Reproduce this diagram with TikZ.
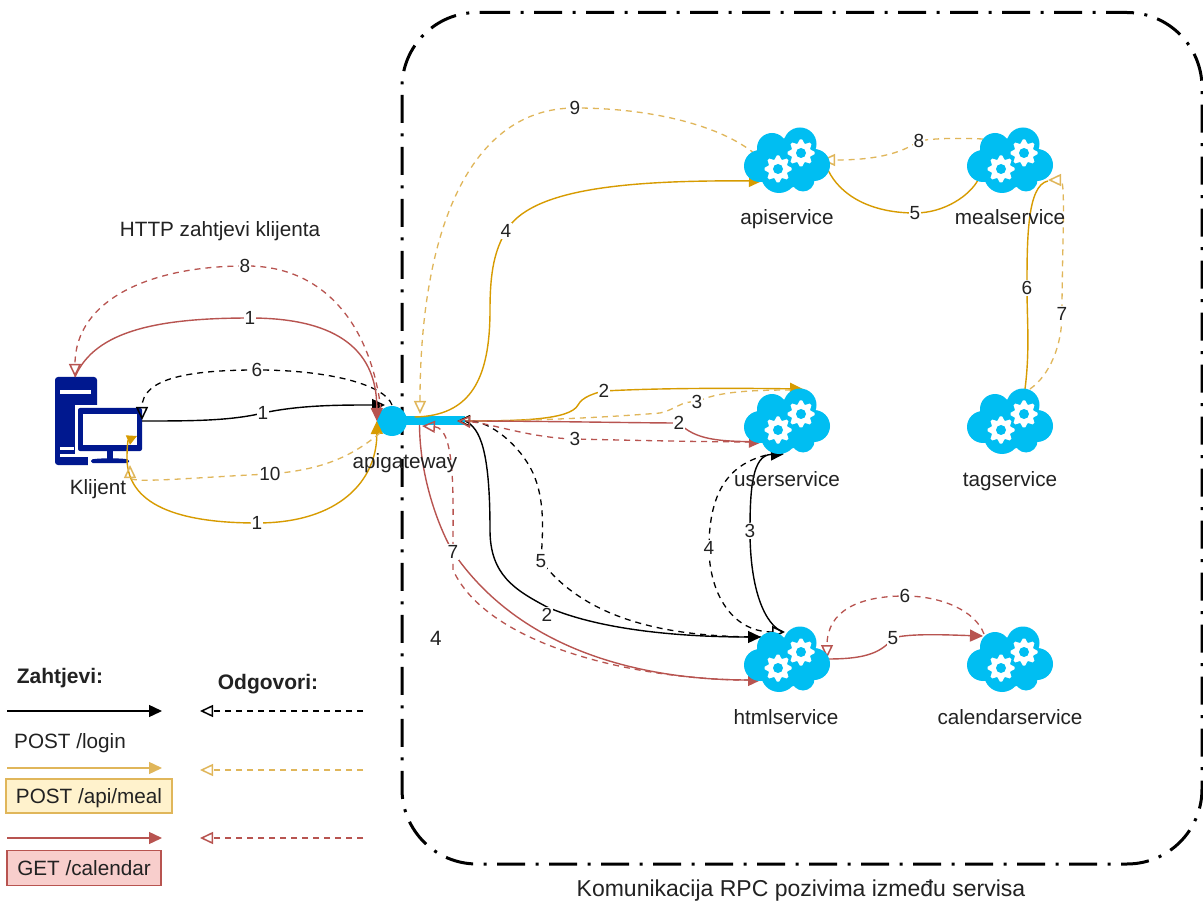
\documentclass[tikz,border=0pt]{standalone}
\usepackage{fontspec}
\setmainfont{Liberation Sans}
\usetikzlibrary{arrows.meta,calc}
\pgfdeclarelayer{edges}
\pgfsetlayers{edges,main}
\definecolor{cyanfill}{HTML}{00BEF2}
\definecolor{navy}{HTML}{00188F}
\definecolor{ylw}{HTML}{D79B00}
\definecolor{ylwd}{HTML}{E0B65A}
\definecolor{redl}{HTML}{B85450}
\definecolor{txt}{HTML}{222222}
\definecolor{ylwfill}{HTML}{FFF2CC}
\definecolor{redfill}{HTML}{F8CECC}
\tikzset{
  lbl/.style={font=\fontsize{19}{20}\selectfont,text=txt,fill=white,inner sep=1pt},
  captxt/.style={font=\fontsize{20.7}{24}\selectfont,text=txt,inner sep=0pt,text height=14pt,text depth=4pt},
  reqline/.style={line width=1.4pt,-{Triangle[length=13pt,width=12pt]}},
  plainline/.style={line width=1.4pt},
  respline/.style={line width=1.3pt,dash pattern=on 6pt off 5pt,-{Triangle[open,length=13pt,width=12pt,line width=1.5pt]}},
  anchorbox/.style={minimum width=85pt,minimum height=65pt,inner sep=0pt},
  legendbox/.style={font=\fontsize{20.7}{24}\selectfont,text=txt,inner sep=0pt,line width=1.5pt,anchor=center,text height=14.2pt,text depth=0pt}
}
\newcommand{\gearat}[2]{%
  \begin{scope}[shift={(#1,#2)}]
    \fill[white] (0,0) circle (10);
    \foreach \a in {0,45,...,315}{\fill[white,rotate=\a] (-1.2,-13.5) -- (1.2,-13.5) -- (4.2,-8) -- (-4.2,-8) -- cycle;}
    \fill[cyanfill] (0,0) circle (5);
  \end{scope}}
\newcommand{\svc}[3]{%
  \node[anchorbox] (#1) at (#2,#3) {};
  \begin{scope}[shift={(#2,#3)}]
    \fill[cyanfill] (-27,6) circle (16) (-15,-12) circle (15) (13,-16) circle (16.5)
      (27,5) circle (16) (-8,15) circle (18) (16,20) circle (11.5) (0,3) circle (25);
    \gearat{-9}{9}
    \gearat{14}{-7}
  \end{scope}}
\begin{document}
\begin{tikzpicture}[x=1pt,y=-1pt]
\useasboundingbox (0,0) rectangle (1203,901);
% services
\svc{api}{787}{160}
\svc{meal}{1010}{160}
\svc{user}{787}{421}
\svc{tag}{1010}{421}
\svc{html}{787}{659}
\svc{cal}{1010}{659}
\node[captxt] (apit) at (787,220) {apiservice};
\node[captxt] (mealt) at (1010,220) {mealservice};
\node[captxt] (usert) at (787,481) {userservice};
\node[captxt] (tagt) at (1010,481) {tagservice};
\node[captxt] (htmlt) at (786,719) {htmlservice};
\node[captxt] (calt) at (1010,719) {calendarservice};
\node[captxt] (gwt) at (405,463) {apigateway};
\node[captxt] (klt) at (98,489) {Klijent};
% free texts
\node[captxt] (http) at (220,232) {HTTP zahtjevi klijenta};
\node[captxt,font=\fontsize{23}{26}\selectfont] (komt) at (801,891) {Komunikacija RPC pozivima između servisa};
\node[captxt] (four) at (436,640) {4};
% legend
\node[captxt,font=\fontsize{21}{24}\selectfont\bfseries] (zah) at (60,678) {Zahtjevi:};
\node[captxt,font=\fontsize{21}{24}\selectfont\bfseries] (odg) at (268,684) {Odgovori:};
\coordinate (lb1a) at (7,711); \coordinate (lb1b) at (162,711);
\coordinate (lr1a) at (363,711); \coordinate (lr1b) at (200,711);
\coordinate (lb2a) at (7,768); \coordinate (lb2b) at (162,768);
\coordinate (lr2a) at (363,770); \coordinate (lr2b) at (200,770);
\coordinate (lb3a) at (7,838); \coordinate (lb3b) at (162,838);
\coordinate (lr3a) at (363,838); \coordinate (lr3b) at (200,838);
\node[captxt] (plog) at (70,743) {POST /login};
\node[legendbox,draw=ylwd,fill=ylwfill,minimum width=166pt,minimum height=34pt] (pmeal) at (89,796) {POST /api/meal};
\node[legendbox,draw=redl,fill=redfill,minimum width=154pt,minimum height=35pt] (gcal) at (84,868) {GET /calendar};
\begin{pgfonlayer}{edges}
\fill[white] (0,0) rectangle (1203,901);
% communication frame
\draw[line width=3pt,dash pattern=on 28pt off 10.5pt on 3pt off 10.5pt,rounded corners=75pt] (482,12.5) -- (1202,12.5) -- (1202,864) -- (402,864) -- (402,12.5) -- (482,12.5);
% gateway
\node[fill=cyanfill,minimum width=65pt,minimum height=9pt,inner sep=0pt] (bar) at (432.5,421) {};
\node[circle,fill=cyanfill,minimum size=30pt,inner sep=0pt] (gw) at (392,421) {};
% client
\node[minimum width=87pt,minimum height=88pt,inner sep=0pt] (client) at (98,421) {};
\fill[navy,rounded corners=3pt] (55,377) rectangle (97,465);
\fill[white] (60,390) rectangle (91,394);
\fill[white] (60,447) rectangle (74,450);
\fill[white] (60,454) rectangle (88,457);
\fill[white] (75,405) rectangle (146,455);
\fill[navy,rounded corners=2pt] (78,408) rectangle (142,451);
\fill[white] (83,414) rectangle (137,445);
\fill[white] (88,455) rectangle (132,466);
\fill[navy] (107,451) rectangle (113,459);
\fill[navy,rounded corners=1.5pt] (91,459.5) .. controls (100,458) and (120,458) .. (129,459.5) -- (129,463) -- (91,463) -- cycle;
% legend lines
\draw[reqline,black] (lb1a) -- (lb1b);
\draw[respline,black] (lr1a) -- (lr1b);
\draw[reqline,ylwd] (lb2a) -- (lb2b);
\draw[respline,ylwd] (lr2a) -- (lr2b);
\draw[reqline,redl] (lb3a) -- (lb3b);
\draw[respline,redl] (lr3a) -- (lr3b);
% client <-> gateway
\draw[reqline,black] ([shift={(44,0)}]client.center) .. controls (190,421) and (230,421) .. (263,413) node[lbl]{1} .. controls (300,405) and (340,405) .. ([shift={(-7,-16)}]gw.center);
\draw[respline,black] ([shift={(0,-16)}]gw.center) .. controls (385,385) and (330,370) .. (257,370) node[lbl]{6} .. controls (190,370) and (142,378) .. ([shift={(44,-1)}]client.center);
\draw[reqline,redl] ([shift={(-23,-44)}]client.center) .. controls (95,330) and (160,318) .. (250,318) node[lbl]{1} .. controls (330,318) and (377,345) .. (gw.west);
\draw[respline,redl] ([shift={(-11,-11)}]gw.center) .. controls (370,320) and (320,265) .. (245,266) node[lbl]{8} .. controls (150,266) and (75,300) .. ([shift={(-23,-44)}]client.center);
\draw[line width=1.4pt,ylw,-{Triangle[length=10pt,width=10pt,quick]}] (257,523) .. controls (190,523) and (127,510) .. (127,458) .. controls (127,446) and (128,440) .. ([shift={(39,15)}]client.center);
\draw[reqline,ylw] (257,523) .. controls (340,523) and (377,480) .. (gw.west);
\node[lbl] (ylab1) at (257,523) {1};
\draw[respline,ylwd] ([shift={(-12,12)}]gw.center) .. controls (350,458) and (320,470) .. (270,474) node[lbl]{10} .. controls (200,477) and (130,484) .. ([shift={(32,44)}]client.center);
% gateway -> apiservice
\draw[reqline,ylw] ([shift={(-18,-4)}]bar.center) .. controls (470,416) and (490,380) .. (490,310) .. controls (490,270) and (495,250) .. (506,231) node[lbl]{4} .. controls (530,190) and (620,180) .. ([shift={(-25,21)}]api.center);
\draw[respline,ylwd] ([shift={(-32,-6)}]api.center) .. controls (720,125) and (650,108) .. (575,108) node[lbl]{9} .. controls (470,108) and (420,230) .. ([shift={(-12.5,-7)}]bar.center);
% gateway <-> userservice
\draw[reqline,ylw] (bar.east) .. controls (520,421) and (570,420) .. (578,405) .. controls (582,397) and (595,393) .. (604,391) node[lbl]{2} .. controls (660,388) and (730,388) .. ([shift={(16,-32)}]user.center);
\draw[respline,ylwd] ([shift={(4,-31)}]user.center) .. controls (750,390) and (715,392) .. (697,402) node[lbl]{3} .. controls (682,400) and (675,410) .. (660,413) .. controls (600,418) and (520,421) .. ([xshift=-8pt]bar.east);
% gateway <-> htmlservice
\draw[reqline,black] (bar.east) .. controls (480,428) and (490,450) .. (490,530) .. controls (490,575) and (515,590) .. (547,607) node[lbl,yshift=-8pt]{2} .. controls (600,630) and (680,637) .. ([shift={(-26,-22)}]html.center);
\draw[respline,black] ([shift={(-26,-22)}]html.center) .. controls (680,637) and (590,625) .. (541,561) node[lbl]{5} .. controls (543,530) and (545,500) .. (533,473) .. controls (520,445) and (490,421) .. ([xshift=-8pt]bar.east);
\draw[reqline,redl] (bar.east) .. controls (540,421) and (640,423) .. (679,423) node[lbl]{2} .. controls (695,440) and (720,441) .. ([shift={(-25,21)}]user.center);
\draw[respline,redl] ([shift={(-25,21)}]user.center) .. controls (700,442) and (620,440) .. (575,439) node[lbl]{3} .. controls (530,438) and (490,423) .. ([xshift=-8pt]bar.east);
\draw[reqline,redl] ([shift={(-13,4)}]bar.center) .. controls (420,480) and (440,530) .. (453,552) .. controls (520,650) and (640,680) .. ([shift={(-26,21)}]html.center);
\draw[respline,redl] ([shift={(-26,21)}]html.center) .. controls (650,682) and (490,650) .. (453,570) -- (453,552) node[lbl]{7} .. controls (453,500) and (456,428) .. ([shift={(-10.5,5)}]bar.center);
% userservice <-> htmlservice
\draw[reqline,black] ([shift={(-4,-27)}]html.center) .. controls (765,625) and (750,590) .. (750,531) node[lbl]{3} .. controls (750,490) and (752,455) .. ([shift={(-3,33)}]user.center);
\draw[respline,black] ([shift={(-10,32)}]user.center) .. controls (730,460) and (709,490) .. (709,548) node[lbl]{4} .. controls (709,590) and (730,632) .. ([shift={(-2,-27)}]html.center);
% api <-> meal
\draw[plainline,ylw] ([shift={(41,10)}]api.center) .. controls (840,195) and (870,213) .. (915,213) node[lbl]{5} .. controls (945,213) and (970,195) .. ([shift={(-32,20)}]meal.center);
\draw[respline,ylwd] ([shift={(-27,-21)}]meal.center) .. controls (960,138) and (935,138) .. (919,141) node[lbl]{8} .. controls (895,158) and (860,160) .. ([shift={(35,0)}]api.center);
% meal <-> tag
\draw[plainline,ylw] ([shift={(15,-32)}]tag.center) .. controls (1030,350) and (1027,320) .. (1027,288) node[lbl]{6} .. controls (1027,240) and (1027,185) .. ([shift={(38,21)}]meal.center);
\draw[respline,ylwd] ([shift={(20,-32)}]tag.center) .. controls (1050,375) and (1062,345) .. (1062,314) node[lbl]{7} .. controls (1062,250) and (1066,180) .. ([shift={(38,20)}]meal.center);
% html <-> calendar
\draw[reqline,redl] ([shift={(40,0)}]html.center) .. controls (860,659) and (880,655) .. (893,638) node[lbl]{5} .. controls (910,633) and (950,635) .. ([shift={(-27,-23)}]cal.center);
\draw[respline,redl] ([shift={(-26,-25)}]cal.center) .. controls (975,610) and (940,596) .. (905,596) node[lbl]{6} .. controls (860,596) and (827,610) .. ([shift={(40,-1)}]html.center);
\end{pgfonlayer}
\end{tikzpicture}
\end{document}
